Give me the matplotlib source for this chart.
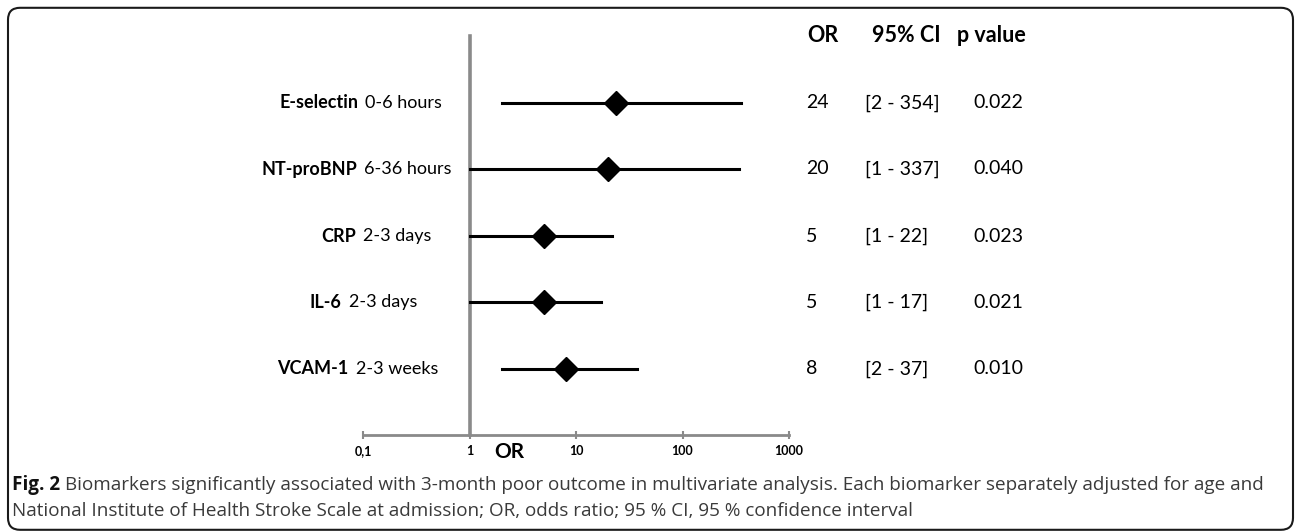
import matplotlib.pyplot as plt
from matplotlib.patches import FancyBboxPatch

# biomarkers and their odds ratios (multivariate model)
markers = ["E-selectin", "NT-proBNP", "CRP", "IL-6", "VCAM-1"]
timing = ["0-6 hours", "6-36 hours", "2-3 days", "2-3 days", "2-3 weeks"]
odds = [24, 20, 5, 5, 8]
ci_low = [2, 1, 1, 1, 2]
ci_high = [354, 337, 22, 17, 37]
p_values = ["0.022", "0.040", "0.023", "0.021", "0.010"]

xticks = [0.1, 1, 10, 100, 1000]
xtick_labels = ["0,1", "1", "10", "100", "1000"]

W, H = 1295, 531
FONT = "Lato"
GREY = "#8a8a8a"


def fx(px):
    return px / W


def fy(py):
    return 1 - py / H


fig = plt.figure(figsize=(W / 100, H / 100), dpi=100)

# rounded frame around the whole figure
frame = FancyBboxPatch((0.08, 0.012), 12.85, 5.22,
                       boxstyle="round,pad=0,rounding_size=0.12",
                       transform=fig.dpi_scale_trans, fill=False,
                       edgecolor="#1a1a1a", linewidth=1.5)
fig.patches.append(frame)

ax = fig.add_axes([fx(363), fy(435), fx(789) - fx(363), fy(36) - fy(435)])
ax.set_xscale("log")
ax.set_xlim(0.1, 1000)
ax.set_ylim(0, 6)
ax.patch.set_alpha(0)

rows = list(range(len(markers), 0, -1))

# reference line at OR = 1
ax.plot([1, 1], [0, 6], color=GREY, linewidth=2.6, clip_on=False, zorder=1)

for y, o, lo, hi in zip(rows, odds, ci_low, ci_high):
    ax.plot([lo, hi], [y, y], color="black", linewidth=2.2, zorder=2)
    ax.plot(o, y, marker="D", markersize=12, color="black", zorder=3)

for s in ["top", "right", "left"]:
    ax.spines[s].set_visible(False)
ax.spines["bottom"].set_color(GREY)
ax.spines["bottom"].set_linewidth(2)
ax.set_yticks([])
ax.set_xticks(xticks)
ax.set_xticklabels(xtick_labels, fontfamily=FONT, fontweight="bold", fontsize=9)
ax.minorticks_off()
ax.tick_params(axis="x", which="major", direction="inout", length=6, width=1.5,
               color=GREY, pad=4)

fig.text(fx(509), fy(452), "OR", fontfamily=FONT, fontweight="bold",
         fontsize=15, ha="center", va="center")

fig.canvas.draw()
renderer = fig.canvas.get_renderer()

# row labels: bold marker name followed by sampling time
label_right = [442, 452, 431, 417, 438]
row_px = [103, 169, 236, 302, 369]
for name, t, xr, yp in zip(markers, timing, label_right, row_px):
    tt = fig.text(fx(xr), fy(yp), t, fontfamily=FONT, fontsize=13,
                  ha="right", va="center")
    w = tt.get_window_extent(renderer).width
    fig.text(fx(xr - w - 7), fy(yp), name, fontfamily=FONT, fontweight="bold",
             fontsize=13, ha="right", va="center")

# results table on the right
for txt, xp in zip(["OR", "95% CI", "p value"], [807, 872, 957]):
    fig.text(fx(xp), fy(36), txt, fontfamily=FONT, fontweight="bold",
             fontsize=15.5, ha="left", va="center")

for o, lo, hi, p, yp in zip(odds, ci_low, ci_high, p_values, row_px):
    fig.text(fx(806), fy(yp), str(o), fontfamily=FONT, fontsize=14,
             ha="left", va="center")
    fig.text(fx(865), fy(yp), f"[{lo} - {hi}]", fontfamily=FONT, fontsize=14,
             ha="left", va="center")
    fig.text(fx(973), fy(yp), p, fontfamily=FONT, fontsize=14,
             ha="left", va="center")

# caption
cap1 = ("Biomarkers significantly associated with 3-month poor outcome in "
        "multivariate analysis. Each biomarker separately adjusted for age and")
cap2 = ("National Institute of Health Stroke Scale at admission; OR, odds ratio; "
        "95 % CI, 95 % confidence interval")
cap_size = 13.6
fig_lbl = fig.text(fx(12), fy(485), "Fig. 2", fontfamily="Open Sans",
                   fontweight="bold", fontsize=cap_size, ha="left", va="center",
                   color="#111111")
lw = fig_lbl.get_window_extent(renderer).width
fig.text(fx(12 + lw + 5), fy(485), cap1, fontfamily="Open Sans",
         fontsize=cap_size, ha="left", va="center", color="#3a3a3a")
fig.text(fx(12), fy(511), cap2, fontfamily="Open Sans",
         fontsize=cap_size, ha="left", va="center", color="#3a3a3a")

fig.savefig("out.png", dpi=100)
